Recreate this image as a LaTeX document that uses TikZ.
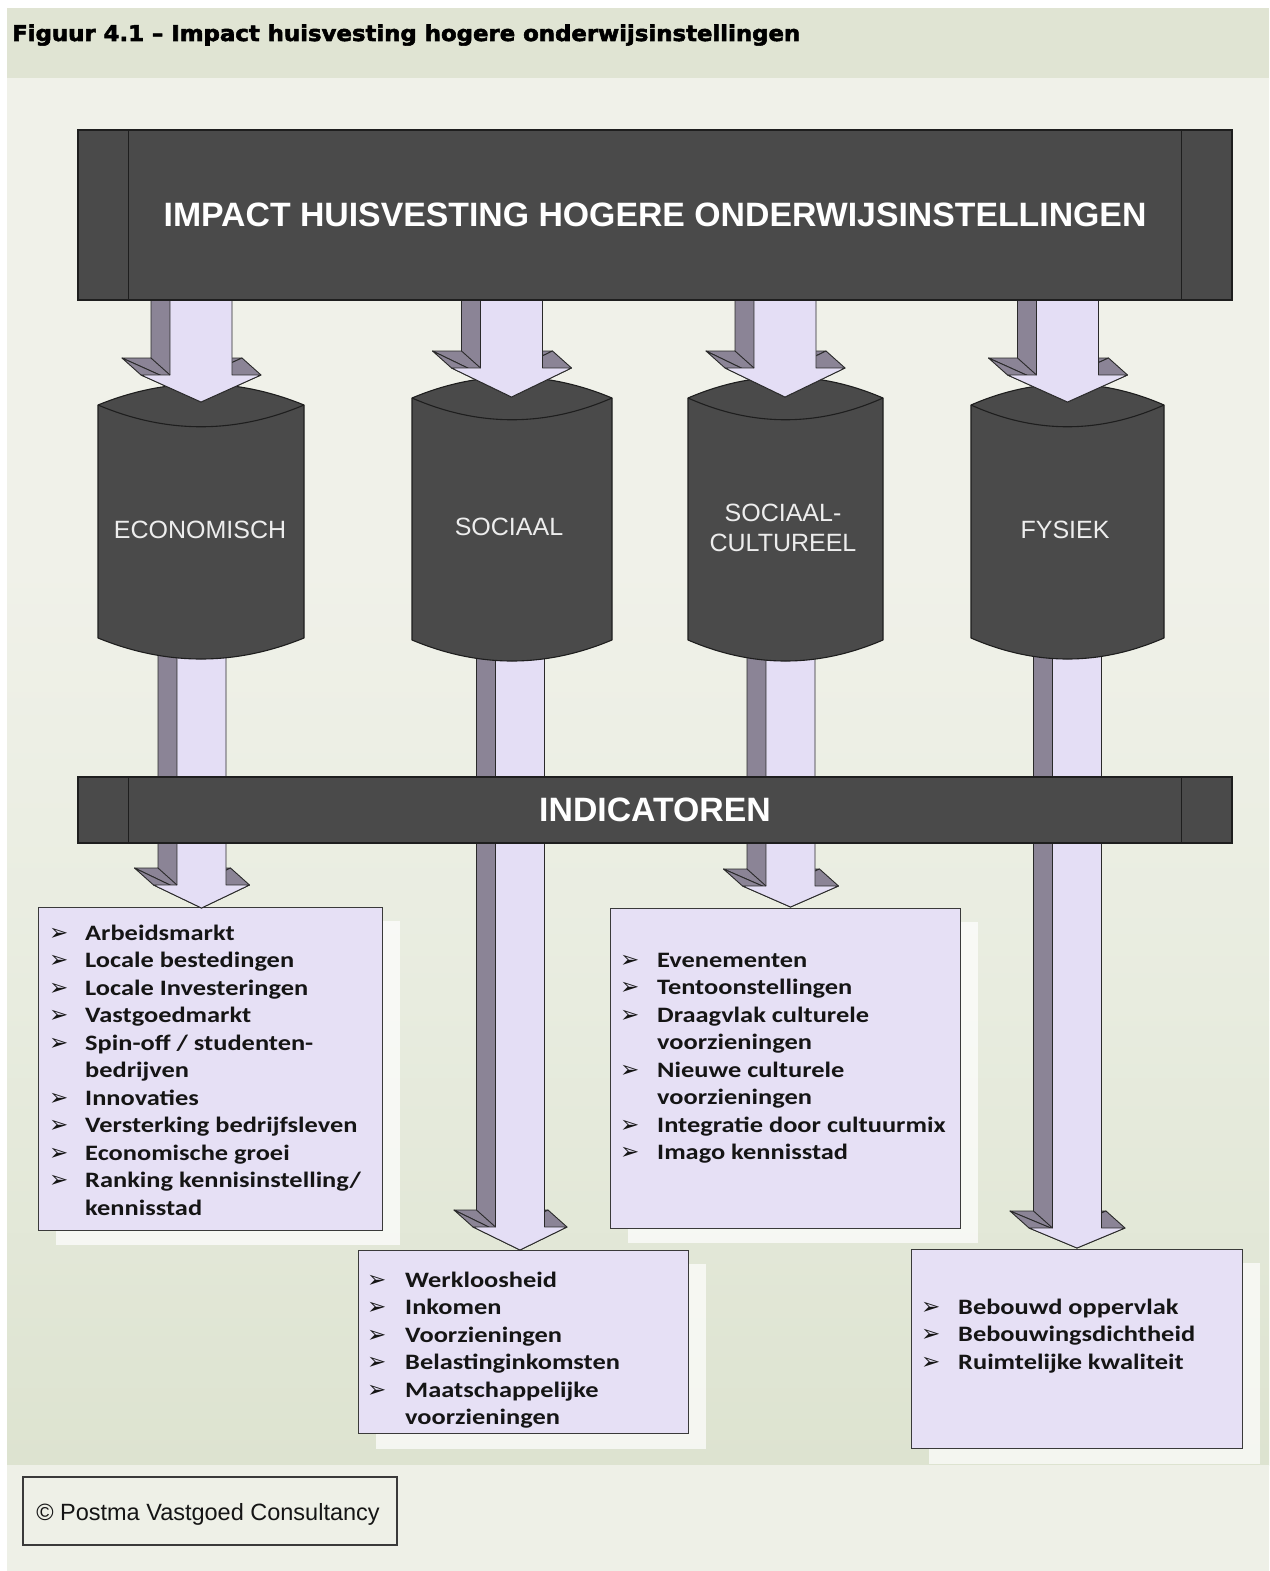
\documentclass[tikz,border=0pt]{standalone}
\usepackage{fontspec}
\usepackage{graphicx}
\setmainfont{Liberation Sans}
\newfontfamily\listfont[FakeStretch=1.2]{Carlito}
\newfontfamily\titlefont[FakeBold=2.5]{DejaVu Sans}
\newfontfamily\symfont{DejaVu Sans}
\usetikzlibrary{calc}

\definecolor{barfill}{HTML}{4A4A4A}
\definecolor{edgec}{HTML}{1E1E1E}
\definecolor{lavender}{HTML}{E4DEF5}
\definecolor{arrowgray}{HTML}{8B8496}
\definecolor{arrowedge}{HTML}{2A2A2A}
\definecolor{boxfill}{HTML}{E6E0F5}
\definecolor{boxedge}{HTML}{3A3A3A}
\definecolor{band}{HTML}{E0E4D3}
\definecolor{paper}{HTML}{F0F1E9}
\definecolor{papermid}{HTML}{E8ECDF}
\definecolor{paperdeep}{HTML}{DDE3D0}
\definecolor{paperlow}{HTML}{EEF0E7}
\definecolor{textc}{HTML}{151515}

% 3D block arrow: centre x, shaft top, head base, tip, half shaft width, half head width
\newcommand\blockarrow[6]{%
  \begin{scope}[xshift=#1pt]
    \begin{scope}[shift={(-19,-17)}]
      \filldraw[arrowside] (-#5,#2) -- (-#5,#3) -- (-#6,#3) -- (0,#4) -- (#6,#3) -- (#5,#3) -- (#5,#2) -- cycle;
    \end{scope}
    \filldraw[arrowside] (-#6,#3) -- (0,#4) -- (-19,#4-17) -- (-#6-19,#3-17) -- cycle;
    \filldraw[arrowside] (#6,#3) -- (0,#4) -- (-19,#4-17) -- (#6-19,#3-17) -- cycle;
    \filldraw[arrowfront] (-#5,#2) -- (-#5,#3) -- (-#6,#3) -- (0,#4) -- (#6,#3) -- (#5,#3) -- (#5,#2) -- cycle;
    \draw[arrowside] (-#5,#3) -- (-#5-19,#3-17);
  \end{scope}}

% drum shape: left x, right x, top corner y, bottom corner y (arcs bulge 21 units)
\newcommand\drum[4]{%
  \filldraw[cylbody] (#1,#3) .. controls ({#1+(#2-#1)/3},#3-28) and ({#2-(#2-#1)/3},#3-28) .. (#2,#3)
    -- (#2,#4) .. controls ({#2-(#2-#1)/3},#4+28) and ({#1+(#2-#1)/3},#4+28) .. (#1,#4) -- cycle;
  \draw[cylbody] (#1,#3) .. controls ({#1+(#2-#1)/3},#3+29) and ({#2-(#2-#1)/3},#3+29) .. (#2,#3);}

% bulleted lines: name prefix, bullet x, text x, first baseline, items
\newcommand\itemlines[5]{%
  \foreach \b/\t [count=\i from 0] in {#5} {
    \node[listtext] (#1\i) at (#3,#4+27.5*\i) {\t};
    \ifnum\b=1 \node[bulletmark] (#1b\i) at (#2,#4+27.5*\i) {➢};\fi
  }}

\begin{document}
\begin{tikzpicture}[x=1pt,y=-1pt,
  bar/.style={draw=edgec, line width=1.2pt, fill=barfill, text=white, inner sep=0pt,
    font=\bfseries\fontsize{33.8pt}{40pt}\selectfont},
  barline/.style={draw=edgec, line width=1.2pt},
  cylbody/.style={draw=edgec, line width=1.1pt, fill=barfill, line join=round},
  cyllabel/.style={text=white!93!black, align=center, inner sep=0pt,
    font=\fontsize{25pt}{30pt}\selectfont},
  arrowside/.style={draw=arrowedge, line width=0.9pt, fill=arrowgray, line join=round},
  arrowfront/.style={draw=arrowedge, line width=0.9pt, fill=lavender, line join=round},
  listbox/.style={draw=boxedge, line width=1.3pt, fill=boxfill, anchor=north west, inner sep=0pt},
  boxglow/.style={fill=white, opacity=0.7},
  listtext/.style={font=\listfont\bfseries\fontsize{22pt}{27.5pt}\selectfont, text=textc,
    inner sep=0pt, anchor=base west},
  bulletmark/.style={font=\symfont\fontsize{23pt}{26pt}\selectfont, text=textc,
    inner sep=0pt, anchor=base west},
]
\useasboundingbox (0,0) rectangle (1269,1571);

% page and background
\fill[white] (0,0) rectangle (1269,1571);
\fill[paper] (7,78) rectangle (1269,1571);
\fill[top color=paper, bottom color=papermid] (7,560) rectangle (1269,1000);
\fill[top color=papermid, bottom color=paperdeep] (7,1000) rectangle (1269,1465);
\fill[paperlow] (7,1465) rectangle (1269,1571);
\fill[band] (7,8) rectangle (1269,78);

% caption
\node[anchor=base west, inner sep=0pt] (caption) at (12,41)
  {\resizebox{788pt}{16.5pt}{\titlefont\bfseries Figuur 4.1 – Impact huisvesting hogere onderwijsinstellingen}};

% indicator boxes with their pale halo
\fill[boxglow] (56,921) rectangle (400,1245);
\fill[boxglow] (376,1264) rectangle (706,1449);
\fill[boxglow] (628,922) rectangle (978,1243);
\fill[boxglow] (929,1263) rectangle (1260,1464);
\node[listbox, minimum width=344pt, minimum height=323pt] (econbox) at (38,907) {};
\node[listbox, minimum width=330pt, minimum height=183pt] (socbox) at (358,1250) {};
\node[listbox, minimum width=350pt, minimum height=320pt] (cultbox) at (610,908) {};
\node[listbox, minimum width=331pt, minimum height=199pt] (fysbox) at (911,1249) {};

% arrows from the drums down to the boxes
\blockarrow{201.5}{630}{885}{908}{24.5}{48}
\blockarrow{520}{630}{1227}{1250}{24.5}{47}
\blockarrow{790.5}{630}{886}{907}{24.5}{48}
\blockarrow{1077}{630}{1228}{1248}{24.5}{48}

% the four drums
\drum{98}{304}{405}{638}
\drum{412}{612}{398}{640}
\drum{688}{883}{398}{640}
\drum{971}{1164}{405}{638}
\node[cyllabel] (econ) at (200,530) {ECONOMISCH};
\node[cyllabel] (soc) at (509,527) {SOCIAAL};
\node[cyllabel] (cult) at (783,528) {SOCIAAL-\\CULTUREEL};
\node[cyllabel] (fys) at (1065,530) {FYSIEK};

% arrows from the impact bar to the drums
\blockarrow{201}{296}{375}{402}{31}{60}
\blockarrow{511.5}{296}{368}{397}{31}{60}
\blockarrow{785}{296}{368}{397}{31}{60}
\blockarrow{1067.5}{296}{375}{402}{31}{60}

% impact bar
\node[bar, minimum width=1154pt, minimum height=170pt] (impact) at (655,215)
  {IMPACT HUISVESTING HOGERE ONDERWIJSINSTELLINGEN};
\draw[barline] ([xshift=51pt]impact.north west) -- ([xshift=51pt]impact.south west);
\draw[barline] ([xshift=-51pt]impact.north east) -- ([xshift=-51pt]impact.south east);

% indicator bar
\node[bar, minimum width=1154pt, minimum height=66pt] (indic) at (655,810) {INDICATOREN};
\draw[barline] ([xshift=51pt]indic.north west) -- ([xshift=51pt]indic.south west);
\draw[barline] ([xshift=-51pt]indic.north east) -- ([xshift=-51pt]indic.south east);

% indicator lists
\itemlines{el}{49}{85}{940}{1/Arbeidsmarkt, 1/Locale bestedingen, 1/Locale Investeringen,
  1/Vastgoedmarkt, 1/{Spin-off / studenten-}, 0/bedrijven, 1/Innovaties,
  1/Versterking bedrijfsleven, 1/Economische groei, 1/{Ranking kennisinstelling/}, 0/kennisstad}
\itemlines{sl}{367}{405}{1287}{1/Werkloosheid, 1/Inkomen, 1/Voorzieningen,
  1/Belastinginkomsten, 1/Maatschappelijke, 0/voorzieningen}
\itemlines{cl}{620}{657}{967}{1/Evenementen, 1/Tentoonstellingen, 1/Draagvlak culturele,
  0/voorzieningen, 1/Nieuwe culturele, 0/voorzieningen, 1/Integratie door cultuurmix,
  1/Imago kennisstad}
\itemlines{fl}{921}{958}{1314}{1/Bebouwd oppervlak, 1/Bebouwingsdichtheid, 1/Ruimtelijke kwaliteit}

% copyright
\node[draw=boxedge, line width=1.4pt, minimum width=374pt, minimum height=68pt, inner sep=0pt]
  (copybox) at (210,1511) {};
\node[inner sep=0pt, text depth=0pt, text height=17.5pt, text=textc,
  font=\fontsize{23.5pt}{28pt}\selectfont] (copytext) at (208,1512) {© Postma Vastgoed Consultancy};
\end{tikzpicture}
\end{document}
